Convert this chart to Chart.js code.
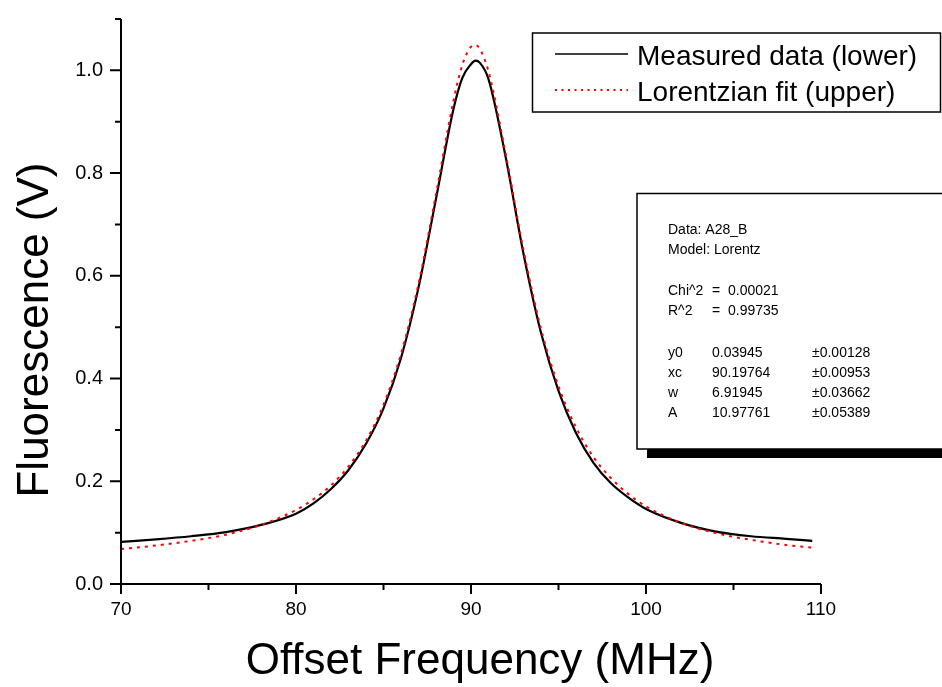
<!DOCTYPE html>
<html>
<head>
<meta charset="utf-8">
<title>Fluorescence vs offset frequency</title>
<script src="https://cdn.jsdelivr.net/npm/chart.js"></script>
<style>
  body { margin: 0; background: #fff; }
  .wrap { width: 942px; height: 687px; position: relative; }
</style>
</head>
<body>
<div class="wrap"><canvas id="myChart"></canvas></div>
<script>
// values
const freq = [70, 72, 74, 76, 78, 80, 81, 82, 83, 84, 85, 86, 87, 88, 89, 89.5, 90, 90.25, 90.5, 91, 92, 93, 94, 95, 96, 97, 98, 99, 100, 102, 104, 106, 108, 109.5];
const measured = [0.082, 0.087, 0.093, 0.101, 0.115, 0.137, 0.157, 0.185, 0.222, 0.273, 0.342, 0.440, 0.577, 0.750, 0.925, 0.985, 1.012, 1.019, 1.015, 0.983, 0.828, 0.643, 0.489, 0.376, 0.294, 0.236, 0.196, 0.168, 0.146, 0.119, 0.102, 0.093, 0.088, 0.084];
const lorentzFit = [0.068, 0.075, 0.084, 0.096, 0.115, 0.144, 0.165, 0.192, 0.229, 0.279, 0.349, 0.448, 0.584, 0.759, 0.941, 1.010, 1.046, 1.049, 1.042, 0.998, 0.834, 0.650, 0.497, 0.385, 0.305, 0.247, 0.206, 0.175, 0.151, 0.119, 0.099, 0.086, 0.076, 0.071];

const xTicks = [70, 80, 90, 100, 110];
const xMinor = [75, 85, 95, 105];
const yTicks = [0.0, 0.2, 0.4, 0.6, 0.8, 1.0];
const yMinor = [0.1, 0.3, 0.5, 0.7, 0.9, 1.1];

const infoHeader = ["Data: A28_B", "Model: Lorentz"];
const statNames = ["Chi^2", "R^2"];
const statValues = ["=  0.00021", "=  0.99735"];
const paramNames = ["y0", "xc", "w", "A"];
const paramValues = ["0.03945", "90.19764", "6.91945", "10.97761"];
const paramErrors = ["±0.00128", "±0.00953", "±0.03662", "±0.05389"];

const fontFamily = '"Liberation Sans", Arial, sans-serif';

const toPoints = (ys) => freq.map((x, i) => ({ x: x, y: ys[i] }));

const axesAndNotes = {
  id: "axesAndNotes",
  afterDatasetsDraw(chart) {
    const ctx = chart.ctx;
    const area = chart.chartArea;
    const xs = chart.scales.x;
    const ys = chart.scales.y;
    ctx.save();

    // axes and tick marks
    ctx.strokeStyle = "#000";
    ctx.lineWidth = 2;
    ctx.beginPath();
    ctx.moveTo(area.left, area.top);
    ctx.lineTo(area.left, area.bottom);
    ctx.moveTo(area.left, area.bottom);
    ctx.lineTo(area.right, area.bottom);
    yTicks.forEach((v) => {
      const y = ys.getPixelForValue(v);
      ctx.moveTo(area.left, y);
      ctx.lineTo(area.left - 11, y);
    });
    yMinor.forEach((v) => {
      const y = ys.getPixelForValue(v);
      ctx.moveTo(area.left, y);
      ctx.lineTo(area.left - 6, y);
    });
    xTicks.forEach((v) => {
      const x = xs.getPixelForValue(v);
      ctx.moveTo(x, area.bottom);
      ctx.lineTo(x, area.bottom + 10);
    });
    xMinor.forEach((v) => {
      const x = xs.getPixelForValue(v);
      ctx.moveTo(x, area.bottom);
      ctx.lineTo(x, area.bottom + 6);
    });
    ctx.stroke();

    // axis titles
    ctx.fillStyle = "#000";
    ctx.font = "44px " + fontFamily;
    ctx.textAlign = "center";
    ctx.textBaseline = "alphabetic";
    ctx.fillText("Offset Frequency (MHz)", 480, 674);
    ctx.save();
    ctx.translate(48, 330);
    ctx.rotate(-Math.PI / 2);
    ctx.fillText("Fluorescence (V)", 0, 0);
    ctx.restore();

    // legend box
    const sets = chart.data.datasets;
    ctx.lineWidth = 1.5;
    ctx.fillStyle = "#fff";
    ctx.fillRect(532, 33, 408, 79);
    ctx.strokeRect(532.5, 33, 408, 79);
    ctx.font = "28px " + fontFamily;
    ctx.textAlign = "left";
    ctx.fillStyle = "#000";
    const legendRows = [1, 0];
    legendRows.forEach((idx, row) => {
      const ds = sets[idx];
      const y = 54 + row * 36;
      ctx.save();
      ctx.strokeStyle = ds.borderColor;
      ctx.lineWidth = idx === 0 ? 2 : 1.5;
      ctx.setLineDash(idx === 0 ? [2, 4.5] : []);
      ctx.beginPath();
      ctx.moveTo(555, y);
      ctx.lineTo(628, y);
      ctx.stroke();
      ctx.restore();
      ctx.fillText(ds.label, 637, y + 11);
    });

    // fit results box
    ctx.fillStyle = "#000";
    ctx.fillRect(647, 449, 310, 9);
    ctx.fillStyle = "#fff";
    ctx.fillRect(637, 193, 320, 256);
    ctx.lineWidth = 1.5;
    ctx.strokeRect(637, 193.5, 320, 255.5);
    ctx.fillStyle = "#000";
    ctx.font = "14px " + fontFamily;
    infoHeader.forEach((t, i) => ctx.fillText(t, 668, 234 + i * 20));
    statNames.forEach((t, i) => {
      ctx.fillText(t, 668, 295 + i * 20);
      ctx.fillText(statValues[i], 712, 295 + i * 20);
    });
    paramNames.forEach((t, i) => {
      const y = 357 + i * 20;
      ctx.fillText(t, 668, y);
      ctx.fillText(paramValues[i], 712, y);
      ctx.fillText(paramErrors[i], 812, y);
    });

    ctx.restore();
  },
};

document.addEventListener("DOMContentLoaded", function () {
  const ctx = document.getElementById("myChart").getContext("2d");
  const data = {
    datasets: [
      {
        label: "Lorentzian fit (upper)",
        data: toPoints(lorentzFit),
        borderColor: "#ff0000",
        borderWidth: 2,
        borderDash: [3, 5],
        pointRadius: 0,
        fill: false,
        cubicInterpolationMode: "monotone",
        order: 0,
      },
      {
        label: "Measured data (lower)",
        data: toPoints(measured),
        borderColor: "#000000",
        borderWidth: 2.2,
        pointRadius: 0,
        fill: false,
        cubicInterpolationMode: "monotone",
        order: 1,
      },
    ],
  };

  const options = {
    responsive: true,
    maintainAspectRatio: false,
    animation: false,
    events: [],
    layout: { padding: { left: 0, top: 15, right: 121, bottom: 0 } },
    scales: {
      x: {
        type: "linear",
        min: 70,
        max: 110,
        afterFit: (s) => { s.height = 103; },
        afterBuildTicks: (s) => { s.ticks = xTicks.map((v) => ({ value: v })); },
        grid: { drawOnChartArea: false, drawTicks: true, tickLength: 10, color: "rgba(0,0,0,0)" },
        border: { display: false },
        ticks: {
          autoSkip: false,
          maxRotation: 0,
          padding: 4,
          color: "#000",
          font: { family: fontFamily, size: 19 },
          callback: (v) => v.toString(),
        },
      },
      y: {
        type: "linear",
        min: 0,
        max: 1.1,
        afterFit: (s) => { s.width = 121; },
        afterBuildTicks: (s) => { s.ticks = yTicks.map((v) => ({ value: v })); },
        grid: { drawOnChartArea: false, drawTicks: true, tickLength: 11, color: "rgba(0,0,0,0)" },
        border: { display: false },
        ticks: {
          autoSkip: false,
          padding: 7,
          color: "#000",
          font: { family: fontFamily, size: 20 },
          callback: (v) => v.toFixed(1),
        },
      },
    },
    plugins: {
      legend: { display: false },
      tooltip: { enabled: false },
    },
  };

  const myChart = new Chart(ctx, {
    type: "line",
    data: data,
    options: options,
    plugins: [axesAndNotes],
  });
});
</script>
</body>
</html>
